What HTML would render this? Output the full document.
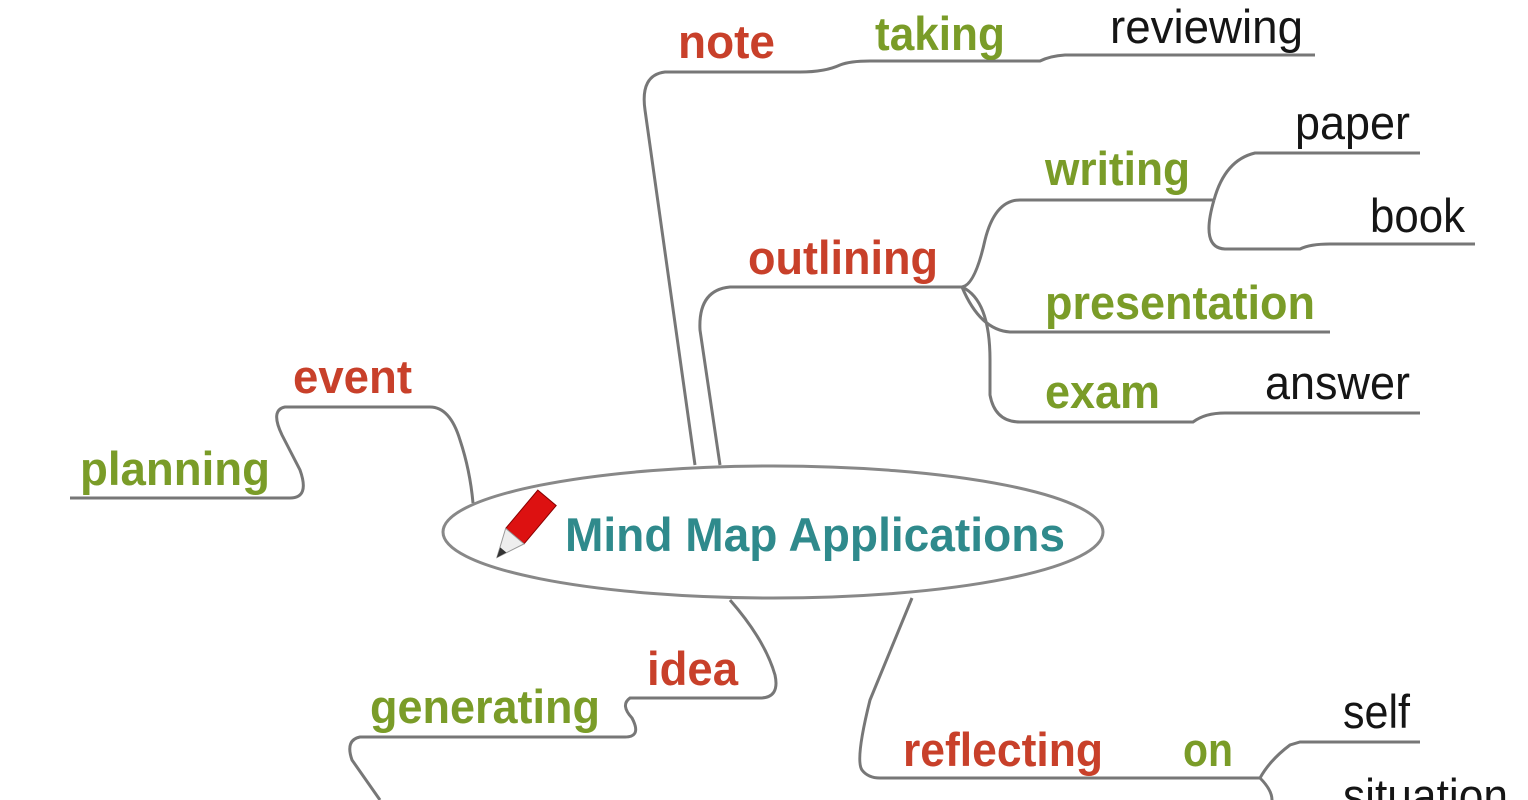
<!DOCTYPE html>
<html><head><meta charset="utf-8"><style>
html,body{margin:0;padding:0;background:#fff;width:1528px;height:800px;overflow:hidden}
svg text{font-family:"Liberation Sans",sans-serif;font-size:47px}
.r{fill:#c8402a;font-weight:bold}
.g{fill:#7a9c28;font-weight:bold}
.k{fill:#151515}
path{fill:none;stroke:#777;stroke-width:3}
</style></head><body>
<svg width="1528" height="800" viewBox="0 0 1528 800" xmlns="http://www.w3.org/2000/svg">
<path d="M695,465 L645,110 Q640,75 665,72 L800,72 Q825,72 840,65 Q850,61 870,61 L1040,61 Q1050,56 1065,55 L1315,55"/>
<path d="M720,465 L700,330 Q698,290 730,287 L962,287"/>
<path d="M962,287 Q975,285 985,240 Q995,200 1020,200 L1214,200"/>
<path d="M1214,200 Q1225,160 1255,153 L1420,153"/>
<path d="M1214,200 Q1200,248 1225,249 L1300,249 Q1310,244 1330,244 L1475,244"/>
<path d="M962,287 Q980,330 1010,332 L1330,332"/>
<path d="M962,287 Q990,300 990,360 L990,395 Q995,422 1020,422 L1193,422 Q1205,413 1225,413 L1420,413"/>
<path d="M473,503 Q470,470 460,440 Q450,407 430,407 L285,407 Q270,410 282,435 L300,470 Q310,498 290,498 L70,498"/>
<path d="M730,600 Q765,640 775,675 Q780,698 760,698 L630,698 Q620,705 632,718 Q642,737 625,737 L360,737 Q345,740 352,760 L380,800"/>
<path d="M912,598 L870,700 Q855,760 862,770 Q868,778 880,778 L1260,778 Q1270,760 1290,745 L1300,742 L1420,742"/>
<path d="M1260,778 Q1272,790 1272,800"/>
<ellipse cx="773" cy="532" rx="330" ry="66" fill="#fff" stroke="#888" stroke-width="3"/>
<g transform="translate(520,530) rotate(-50)">
<rect x="-8" y="-12" width="50" height="24" fill="#d11" stroke="#800" stroke-width="1"/>
<polygon points="-8,-12 -36,0 -8,12" fill="#eee" stroke="#999" stroke-width="1"/>
<polygon points="-26,-4 -36,0 -26,4" fill="#333"/>
</g>
<text x="565" y="551" style="fill:#2f8a8c;font-weight:bold" textLength="500" lengthAdjust="spacingAndGlyphs">Mind Map Applications</text>
<text class="r" x="678" y="58" textLength="97" lengthAdjust="spacingAndGlyphs">note</text>
<text class="g" x="875" y="50" textLength="130" lengthAdjust="spacingAndGlyphs">taking</text>
<text class="k" x="1110" y="43" textLength="193" lengthAdjust="spacingAndGlyphs">reviewing</text>
<text class="k" x="1295" y="139" textLength="115" lengthAdjust="spacingAndGlyphs">paper</text>
<text class="g" x="1045" y="185" textLength="145" lengthAdjust="spacingAndGlyphs">writing</text>
<text class="k" x="1370" y="232" textLength="95" lengthAdjust="spacingAndGlyphs">book</text>
<text class="r" x="748" y="274" textLength="190" lengthAdjust="spacingAndGlyphs">outlining</text>
<text class="g" x="1045" y="319" textLength="270" lengthAdjust="spacingAndGlyphs">presentation</text>
<text class="g" x="1045" y="408" textLength="115" lengthAdjust="spacingAndGlyphs">exam</text>
<text class="k" x="1265" y="399" textLength="145" lengthAdjust="spacingAndGlyphs">answer</text>
<text class="r" x="293" y="393" textLength="119" lengthAdjust="spacingAndGlyphs">event</text>
<text class="g" x="80" y="485" textLength="190" lengthAdjust="spacingAndGlyphs">planning</text>
<text class="r" x="647" y="685" textLength="91" lengthAdjust="spacingAndGlyphs">idea</text>
<text class="g" x="370" y="723" textLength="230" lengthAdjust="spacingAndGlyphs">generating</text>
<text class="r" x="903" y="766" textLength="200" lengthAdjust="spacingAndGlyphs">reflecting</text>
<text class="g" x="1183" y="766" textLength="50" lengthAdjust="spacingAndGlyphs">on</text>
<text class="k" x="1343" y="728" textLength="67" lengthAdjust="spacingAndGlyphs">self</text>
<text class="k" x="1343" y="812" textLength="165" lengthAdjust="spacingAndGlyphs">situation</text>
</svg>
</body></html>
